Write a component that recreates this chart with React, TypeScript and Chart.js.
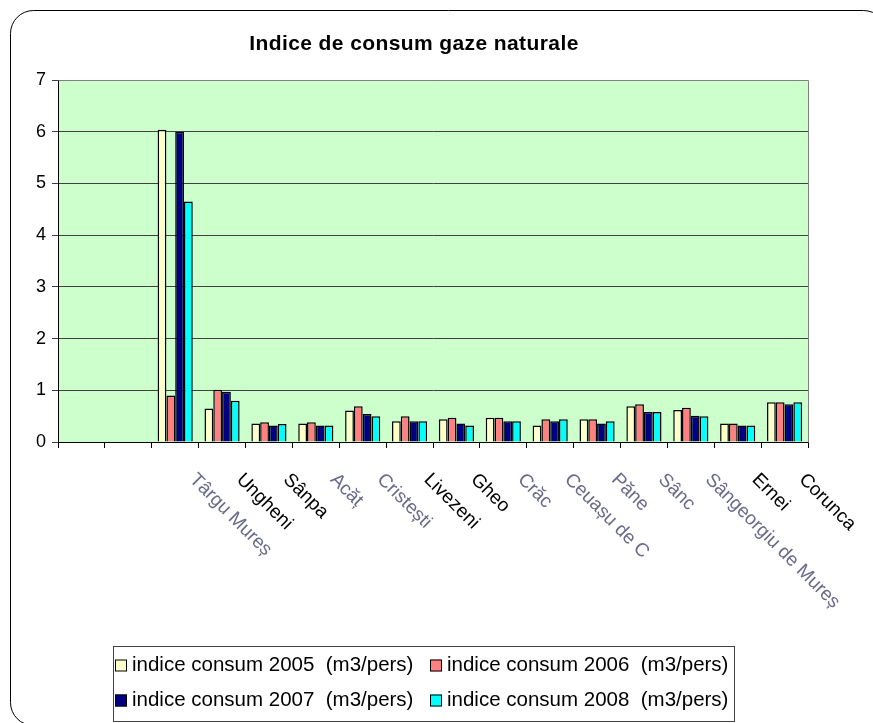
import React, { useEffect, useRef } from "react";
import { Chart, registerables } from "chart.js";

Chart.register(...registerables);

const titleText = "Indice de consum gaze naturale";
const categories = ["", "", "Târgu Mureș", "Ungheni", "Sânpa", "Acăț", "Cristești", "Livezeni", "Gheo", "Crăc", "Ceuașu de C", "Păne", "Sânc", "Sângeorgiu de Mureș", "Ernei", "Corunca"];
const seriesLabels = [
  "indice consum 2005  (m3/pers)",
  "indice consum 2006  (m3/pers)",
  "indice consum 2007  (m3/pers)",
  "indice consum 2008  (m3/pers)",
];
const v2005 = [null, null, 6.04, 0.65, 0.36, 0.36, 0.61, 0.4, 0.44, 0.47, 0.32, 0.44, 0.69, 0.62, 0.36, 0.77];
const v2006 = [null, null, 0.9, 1.01, 0.38, 0.38, 0.69, 0.5, 0.47, 0.47, 0.44, 0.44, 0.73, 0.66, 0.36, 0.77];
const v2007 = [null, null, 6.0, 0.97, 0.32, 0.32, 0.54, 0.4, 0.36, 0.4, 0.4, 0.36, 0.58, 0.51, 0.32, 0.73];
const v2008 = [null, null, 4.65, 0.8, 0.35, 0.32, 0.5, 0.4, 0.32, 0.4, 0.44, 0.4, 0.58, 0.5, 0.32, 0.77];
const yTicks = [0, 1, 2, 3, 4, 5, 6, 7];

// styles (not data)
const colors = ["#FFFFCC", "#FF8080", "#000080", "#00FFFF"];
const fuzzyLabels = [false, false, true, false, false, true, true, false, false, true, true, true, true, true, false, false];
const FONT = '"Liberation Sans", Arial, sans-serif';

const decorPlugin = {
  id: "decor",
  beforeDraw(chart: any) {
    const { ctx, chartArea: a } = chart;
    ctx.save();
    ctx.fillStyle = "#fff";
    ctx.fillRect(0, 0, chart.width, chart.height);
    // outer rounded frame
    ctx.strokeStyle = "#000";
    ctx.lineWidth = 1;
    const fx = 10.5, fy = 10.5, fw = 876, fh = 715, r = 23;
    ctx.beginPath();
    ctx.moveTo(fx + r, fy);
    ctx.lineTo(fx + fw - r, fy);
    ctx.arcTo(fx + fw, fy, fx + fw, fy + r, r);
    ctx.lineTo(fx + fw, fy + fh - r);
    ctx.arcTo(fx + fw, fy + fh, fx + fw - r, fy + fh, r);
    ctx.lineTo(fx + r, fy + fh);
    ctx.arcTo(fx, fy + fh, fx, fy + fh - r, r);
    ctx.lineTo(fx, fy + r);
    ctx.arcTo(fx, fy, fx + r, fy, r);
    ctx.stroke();
    // plot background
    ctx.fillStyle = "#CCFFCC";
    ctx.fillRect(a.left, a.top, a.right - a.left, a.bottom - a.top);
    // title
    ctx.fillStyle = "#000";
    ctx.font = "bold 21px " + FONT;
    (ctx as any).letterSpacing = "0.4px";
    ctx.textAlign = "center";
    ctx.textBaseline = "alphabetic";
    ctx.fillText(titleText, 414, 50);
    (ctx as any).letterSpacing = "0px";
    ctx.restore();
  },
  afterDraw(chart: any) {
    const { ctx, chartArea: a } = chart;
    ctx.save();
    // top and right border of plot area
    ctx.strokeStyle = "#808080";
    ctx.lineWidth = 1;
    ctx.beginPath();
    ctx.moveTo(Math.round(a.left) + 0.5, Math.round(a.top) + 0.5);
    ctx.lineTo(Math.round(a.right) + 0.5, Math.round(a.top) + 0.5);
    ctx.lineTo(Math.round(a.right) + 0.5, Math.round(a.bottom) + 0.5);
    ctx.stroke();
    // x labels rotated 45deg clockwise
    const xs = chart.scales.x;
    ctx.font = "19px " + FONT;
    ctx.textAlign = "left";
    ctx.textBaseline = "top";
    categories.forEach((c, i) => {
      if (!c) return;
      const px = xs.getPixelForValue(i);
      ctx.save();
      ctx.translate(px + 24, a.bottom + 28);
      ctx.rotate(Math.PI / 4);
      ctx.fillStyle = fuzzyLabels[i] ? "#6a6a8c" : "#000";
      ctx.fillText(c, 0, 0);
      ctx.restore();
    });
    // legend
    const lx = 113.5, ly = 646.5, lw = 621, lh = 75;
    ctx.strokeStyle = "#444";
    ctx.lineWidth = 1;
    ctx.strokeRect(lx, ly, lw, lh);
    ctx.font = "20.5px " + FONT;
    ctx.textBaseline = "middle";
    chart.data.datasets.forEach((ds: any, i: number) => {
      const col = i % 2, row = Math.floor(i / 2);
      const mx = lx + 1.5 + col * 315;
      const my = ly + 19 + row * 35;
      ctx.fillStyle = ds.backgroundColor;
      ctx.fillRect(mx, my - 6, 12, 12);
      ctx.strokeStyle = "#000";
      ctx.strokeRect(mx + 0.5, my - 5.5, 11, 11);
      ctx.fillStyle = "#000";
      ctx.fillText(ds.label, mx + 17, my);
    });
    ctx.restore();
  },
};

export default function App() {
  const ref = useRef<HTMLCanvasElement>(null);
  useEffect(() => {
    if (!ref.current) return;
    const series = [v2005, v2006, v2007, v2008];
    const chart = new Chart(ref.current, {
      type: "bar",
      data: {
        labels: categories,
        datasets: series.map((d, i) => ({
          label: seriesLabels[i],
          data: d as any,
          backgroundColor: colors[i],
          borderColor: "#000",
          borderWidth: 1.5,
          barPercentage: 1,
          categoryPercentage: 0.75,
        })),
      },
      options: {
        animation: false,
        responsive: false,
        devicePixelRatio: 1,
        layout: { padding: { left: 8, top: 80, right: 65, bottom: 261 } },
        plugins: { legend: { display: false }, title: { display: false }, tooltip: { enabled: false } },
        scales: {
          x: {
            afterFit: (s: any) => { s.height = 20; },
            grid: { display: true, drawOnChartArea: false, drawTicks: true, tickLength: 6, color: "#000", offset: true },
            border: { color: "#000", width: 1 },
            ticks: { display: false },
          },
          y: {
            min: 0,
            max: 7,
            afterFit: (s: any) => { s.width = 50; },
            afterBuildTicks: (s: any) => { s.ticks = yTicks.map((v) => ({ value: v })); },
            grid: { color: "#404040", tickLength: 6, drawTicks: true },
            border: { color: "#000", width: 1 },
            ticks: { font: { family: FONT, size: 18 }, color: "#000", padding: 6 },
          },
        },
      },
      plugins: [decorPlugin],
    });
    return () => chart.destroy();
  }, []);
  return (
    <canvas
      ref={ref}
      width={873}
      height={723}
      style={{ position: "absolute", left: 0, top: 0, width: 873, height: 723, display: "block" }}
    />
  );
}
